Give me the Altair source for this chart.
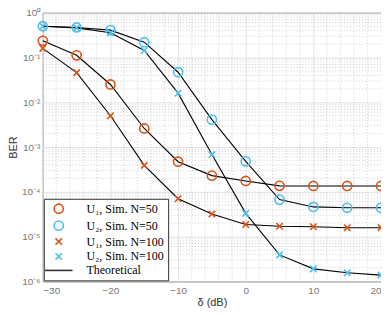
import altair as alt
import pandas as pd

delta = [-30, -25, -20, -15, -10, -5, 0, 5, 10, 15, 20]

u1_n50 = [0.236, 0.112, 0.025, 0.0026, 4.7e-4, 2.3e-4, 1.75e-4, 1.36e-4, 1.35e-4, 1.35e-4, 1.35e-4]
u2_n50 = [0.50, 0.47, 0.41, 0.22, 0.047, 0.0041, 4.8e-4, 6.7e-5, 4.6e-5, 4.4e-5, 4.4e-5]
u1_n100 = [0.16, 0.046, 0.005, 3.9e-4, 7.0e-5, 3.2e-5, 1.86e-5, 1.7e-5, 1.66e-5, 1.58e-5, 1.58e-5]
u2_n100 = [0.50, 0.46, 0.357, 0.144, 0.016, 6.8e-4, 3.3e-5, 3.9e-6, 1.9e-6, 1.55e-6, 1.38e-6]

series_names = ["U₁, Sim. N=50", "U₂, Sim. N=50", "U₁, Sim. N=100", "U₂, Sim. N=100", "Theoretical"]
series_values = [u1_n50, u2_n50, u1_n100, u2_n100]

x_major = [-30, -20, -10, 0, 10, 20]
x_minor = [v for v in range(-30, 21, 2) if v % 10 != 0]
y_major = [1, 1e-1, 1e-2, 1e-3, 1e-4, 1e-5, 1e-6]
y_minor = [m * 10.0 ** e for e in range(-6, 0) for m in range(2, 10)]

rows = []
for name, vals in zip(series_names, series_values):
    for d, v in zip(delta, vals):
        rows.append({"series": name, "delta": d, "ber": v})
df = pd.DataFrame(rows)

orange = "#D95319"
blue = "#4DBEEE"
xpath = "M-0.7,-0.7L0.7,0.7M-0.7,0.7L0.7,-0.7"
linepath = "M-3,0L3,0"

xscale = alt.Scale(domain=[-30, 20], nice=False, zero=False)
yscale = alt.Scale(type="log", domain=[1e-6, 1], nice=False)

xaxis = alt.Axis(values=x_major, title="δ (dB)", grid=True, gridColor="#e3e3e3",
                 labelColor="#777777", labelFont="Liberation Sans", labelFontSize=10,
                 titleFont="Liberation Sans", titleFontSize=11, titleFontWeight="normal",
                 titleColor="#333333", tickSize=0, domain=False, labelPadding=4, titlePadding=1)
yaxis = alt.Axis(values=y_major, title="BER", grid=True, gridColor="#e3e3e3",
                 labelExpr="'10' + ['⁰','⁻¹','⁻²','⁻³','⁻⁴','⁻⁵','⁻⁶'][round(-log(datum.value)/LN10)]",
                 labelColor="#777777", labelFont="Liberation Sans", labelFontSize=10,
                 titleFont="Liberation Sans", titleFontSize=11, titleFontWeight="normal",
                 titleColor="#333333", tickSize=0, domain=False, labelPadding=3, titlePadding=3)

xminor_chart = alt.Chart(pd.DataFrame({"v": x_minor})).mark_rule(
    color="#bbbbbb", strokeWidth=0.7, strokeDash=[1, 2]
).encode(x=alt.X("v:Q", scale=xscale, axis=xaxis))

yminor_chart = alt.Chart(pd.DataFrame({"v": y_minor})).mark_rule(
    color="#bbbbbb", strokeWidth=0.7, strokeDash=[1, 2]
).encode(y=alt.Y("v:Q", scale=yscale, axis=yaxis))

lines = alt.Chart(df).mark_line(color="black", strokeWidth=1.1).encode(
    x=alt.X("delta:Q", scale=xscale, axis=xaxis),
    y=alt.Y("ber:Q", scale=yscale, axis=yaxis),
    detail="series:N",
)

legend = alt.Legend(title=None, orient="bottom-left", offset=1, fillColor="white",
                    strokeColor="#333333", padding=4, labelFont="Liberation Serif",
                    labelFontSize=12, labelColor="black", rowPadding=1, symbolStrokeWidth=1.6,
                    labelLimit=200, labelOffset=22, symbolOffset=5)

points = alt.Chart(df).mark_point(filled=False, strokeWidth=1.6, opacity=1).encode(
    x=alt.X("delta:Q", scale=xscale, axis=xaxis),
    y=alt.Y("ber:Q", scale=yscale, axis=yaxis),
    color=alt.Color("series:N", scale=alt.Scale(domain=series_names,
                    range=[orange, blue, orange, blue, "#333333"]), legend=legend),
    shape=alt.Shape("series:N", scale=alt.Scale(domain=series_names,
                    range=["circle", "circle", xpath, xpath, linepath]), legend=legend),
    size=alt.Size("series:N", scale=alt.Scale(domain=series_names,
                  range=[85, 85, 45, 45, 100]), legend=legend),
)

chart = alt.layer(xminor_chart, yminor_chart, lines, points).properties(
    width=340, height=270,
    autosize=alt.AutoSizeParams(type="none"),
    padding={"left": 35, "top": 4, "right": 0, "bottom": 27},
).configure_view(stroke="#444444", strokeWidth=1)

chart.save("out.html", embed_options={"renderer": "svg", "actions": False})
